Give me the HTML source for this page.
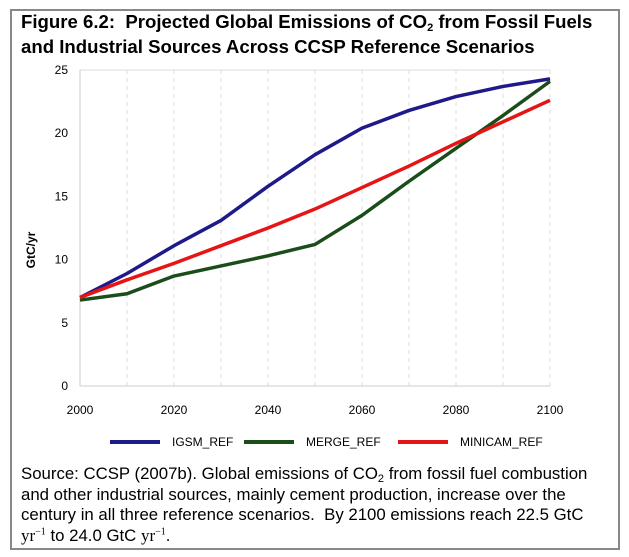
<!DOCTYPE html>
<html><head><meta charset="utf-8"><style>
body{margin:0;width:629px;height:557px;background:#fff;font-family:"Liberation Sans",Arial,sans-serif;overflow:hidden}
#frame{position:absolute;left:10px;top:9px;width:606px;height:537px;border:2px solid #888}
#title{position:absolute;left:21px;top:9px;font-weight:bold;font-size:18.6px;line-height:25px;color:#000;white-space:nowrap}
#caption{position:absolute;left:21px;top:464px;font-size:16.8px;line-height:20.5px;color:#000;white-space:nowrap}
sub{font-size:11px;vertical-align:-3px;line-height:0}
.t{font-family:"Liberation Serif",serif;font-size:17px}
sup{font-size:10px;line-height:0}
</style></head><body>
<div id="frame"></div>
<div id="title">Figure 6.2:&nbsp; Projected Global Emissions of CO<sub>2</sub> from Fossil Fuels<br>and Industrial Sources Across CCSP Reference Scenarios</div>
<svg id="chart" width="629" height="557" style="position:absolute;left:0;top:0"></svg>
<div id="caption">Source: CCSP (2007b). Global emissions of CO<sub>2</sub> from fossil fuel combustion<br>and other industrial sources, mainly cement production, increase over the<br>century in all three reference scenarios.&nbsp; By 2100 emissions reach 22.5 GtC<br><span class="t">yr<sup>−1</sup></span> to 24.0 GtC <span class="t">yr<sup>−1</sup></span>.</div>
<script>
const years=[2000,2010,2020,2030,2040,2050,2060,2070,2080,2090,2100];
const igsm=[7.0,8.9,11.1,13.1,15.8,18.3,20.4,21.8,22.9,23.7,24.3];
const merge=[6.8,7.3,8.7,9.5,10.3,11.2,13.5,16.2,18.8,21.4,24.1];
const minicam=[7.0,8.4,9.7,11.1,12.5,14.0,15.7,17.4,19.2,20.9,22.6];
const xTicks=[2000,2020,2040,2060,2080,2100];
const yTicks=[0,5,10,15,20,25];
const seriesNames=["IGSM_REF","MERGE_REF","MINICAM_REF"];
const NS="http://www.w3.org/2000/svg";
const svg=document.getElementById('chart');
const x=v=>80+(v-2000)*4.7;
const y=v=>386-v*12.64;
function mk(tag,attrs,parent){const e=document.createElementNS(NS,tag);for(const k in attrs)e.setAttribute(k,attrs[k]);(parent||svg).appendChild(e);return e;}
for(let yr=2010;yr<=2100;yr+=10){
 const g=mk('line',{x1:x(yr),x2:x(yr),y1:y(25),y2:y(0),stroke:'#ddd','stroke-dasharray':'4,4','stroke-width':1});
 
 
}
const topLine=mk('line',{x1:x(2000),x2:x(2100),y1:y(25),y2:y(25),stroke:'#ddd'});


const xa=mk('line',{x1:x(2000),x2:x(2100),y1:y(0),y2:y(0),stroke:'#ccc'});


const ya=mk('line',{x1:x(2000),x2:x(2000),y1:y(0),y2:y(25),stroke:'#ccc'});


yTicks.forEach(v=>{
 const t=mk('text',{x:68,y:y(v)+4,'text-anchor':'end','font-size':12,fill:'#000'});t.textContent=v;
 
 
});
xTicks.forEach(v=>{
 const t=mk('text',{x:x(v),y:414,'text-anchor':'middle','font-size':12,fill:'#000'});t.textContent=v;
 
 
});
const yt=mk('text',{x:0,y:0,transform:'translate(35,250) rotate(-90)','text-anchor':'middle','font-size':12,'font-weight':'bold'});yt.textContent='GtC/yr';


const series=[igsm,merge,minicam];const colors=['#1f1a8a','#1a4d1a','#e51515'];
series.forEach((s,i)=>{
 const p=mk('polyline',{points:years.map((yr,j)=>x(yr)+','+y(s[j])).join(' '),fill:'none',stroke:colors[i],'stroke-width':3.5,'stroke-linejoin':'round'});
 
 
});
const lx=[110,244,398];
seriesNames.forEach((n,i)=>{
 const l=mk('line',{x1:lx[i],x2:lx[i]+50,y1:442,y2:442,stroke:colors[i],'stroke-width':4});
 
 
 const t=mk('text',{x:lx[i]+62,y:446,'font-size':12});t.textContent=n;
 
 
});
</script>
</body></html>
